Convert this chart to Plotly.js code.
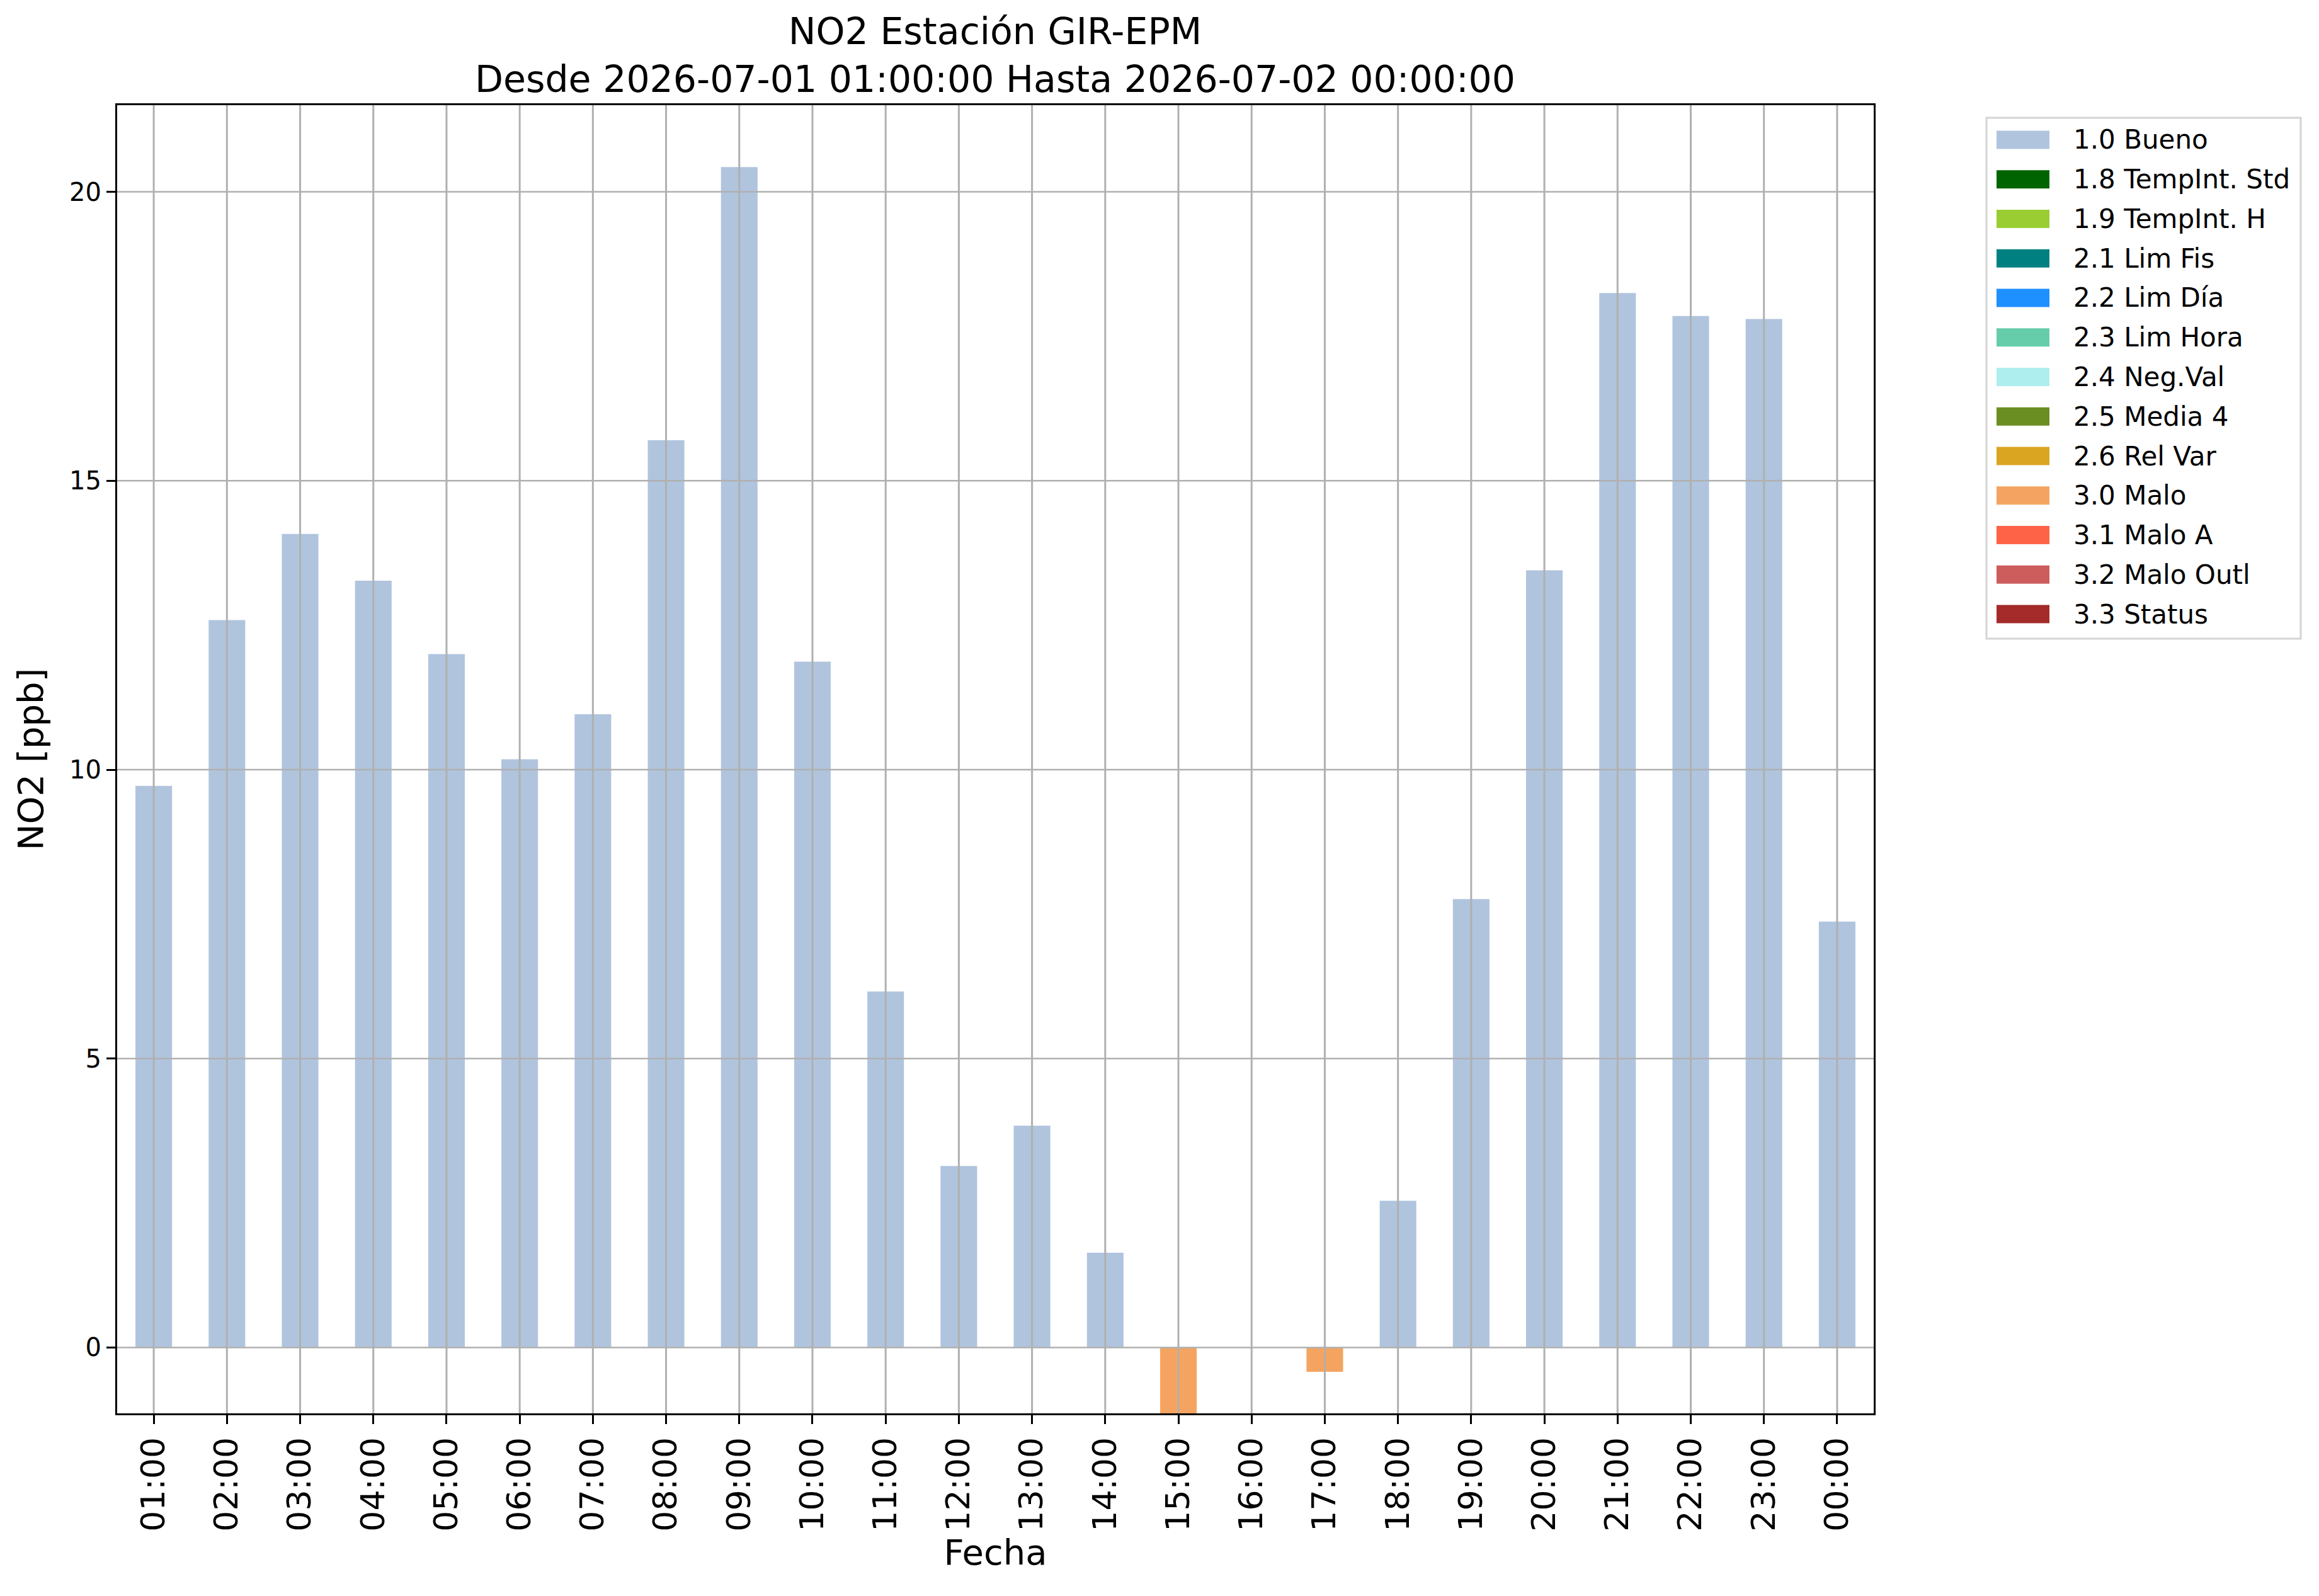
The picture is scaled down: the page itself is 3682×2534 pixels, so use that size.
<!DOCTYPE html>
<html>
<head>
<meta charset="utf-8">
<script src="https://cdn.plot.ly/plotly-3.0.1.min.js"></script>
<style>
  html, body { margin: 0; padding: 0; background: #fff; }
  #chart { width: 3682px; height: 2534px; }
</style>
</head>
<body>
<div id="chart"></div>
<script>
// Horas del día (eje X)
const hours = ['01:00', '02:00', '03:00', '04:00', '05:00', '06:00', '07:00', '08:00',
    '09:00', '10:00', '11:00', '12:00', '13:00', '14:00', '15:00', '16:00',
    '17:00', '18:00', '19:00', '20:00', '21:00', '22:00', '23:00', '00:00'];

// NO2 [ppb] con bandera 1.0 Bueno
const bueno = [9.72, 12.59, 14.08, 13.27, 12.00, 10.18, 10.96, 15.70,
    20.43, 11.87, 6.16, 3.14, 3.84, 1.64, null, null,
    null, 2.54, 7.76, 13.45, 18.25, 17.85, 17.80, 7.37];

// NO2 [ppb] con bandera 3.0 Malo
const malo = [null, null, null, null, null, null, null, null,
    null, null, null, null, null, null, -1.14, null,
    -0.42, null, null, null, null, null, null, null];

// Banderas de calidad (leyenda)
const flagLabels = ['1.0 Bueno', '1.8 TempInt. Std', '1.9 TempInt. H', '2.1 Lim Fis',
    '2.2 Lim Día', '2.3 Lim Hora', '2.4 Neg.Val', '2.5 Media 4', '2.6 Rel Var',
    '3.0 Malo', '3.1 Malo A', '3.2 Malo Outl', '3.3 Status'];
const flagColors = ['#B0C4DE', '#006400', '#9ACD32', '#008080', '#1E90FF', '#66CDAA',
    '#AFEEEE', '#6B8E23', '#DAA520', '#F4A460', '#FF6347', '#CD5C5C', '#A52A2A'];

const yTicks = [0, 5, 10, 15, 20];

// Geometría del área de trazado (px)
const W = 3682, H = 2534;
const M = { l: 186, r: 707, t: 167, b: 290 };
const plotW = W - M.l - M.r;
const plotH = H - M.t - M.b;
const px = p => (p - M.l) / plotW;
const py = p => (H - M.b - p) / plotH;

const GRID = '#b0b0b0';
const FONT = 'DejaVu Sans, Liberation Sans, sans-serif';

function barTrace(y, label) {
    const i = flagLabels.indexOf(label);
    return {
        type: 'bar',
        x: hours,
        y: y,
        name: label,
        marker: { color: flagColors[i], line: { width: 0 } },
        showlegend: false,
        hoverinfo: 'x+y+name'
    };
}

const traces = [barTrace(bueno, '1.0 Bueno'), barTrace(malo, '3.0 Malo')];

// Rejilla encima de las barras (como en matplotlib)
const shapes = [];
hours.forEach((h, i) => {
    shapes.push({
        type: 'line', layer: 'above', xref: 'x', yref: 'paper',
        x0: i, x1: i, y0: 0, y1: 1,
        line: { color: GRID, width: 3 }
    });
});
yTicks.forEach(v => {
    shapes.push({
        type: 'line', layer: 'above', xref: 'paper', yref: 'y',
        x0: 0, x1: 1, y0: v, y1: v,
        line: { color: GRID, width: 2.5 }
    });
});

// Leyenda dibujada a mano (parches rectangulares)
const legendBox = { x0: 3154, x1: 3653, y0: 187, y1: 1014 };
const rowStart = 222, rowStep = 62.75;
const annotations = [];
shapes.push({
    type: 'rect', layer: 'above', xref: 'paper', yref: 'paper',
    x0: px(legendBox.x0), x1: px(legendBox.x1),
    y0: py(legendBox.y1), y1: py(legendBox.y0),
    fillcolor: 'rgba(255,255,255,0.8)',
    line: { color: '#d4d4d4', width: 3 }
});
flagLabels.forEach((label, i) => {
    const cy = rowStart + i * rowStep;
    shapes.push({
        type: 'rect', layer: 'above', xref: 'paper', yref: 'paper',
        x0: px(3170), x1: px(3254), y0: py(cy + 14.5), y1: py(cy - 14.5),
        fillcolor: flagColors[i], line: { width: 0 }
    });
    annotations.push({
        xref: 'paper', yref: 'paper', x: px(3290), y: py(cy),
        xanchor: 'left', yanchor: 'middle', showarrow: false,
        text: label, font: { family: FONT, size: 42, color: '#000' }
    });
});

const layout = {
    width: W,
    height: H,
    autosize: false,
    margin: M,
    paper_bgcolor: '#fff',
    plot_bgcolor: '#fff',
    font: { family: FONT, color: '#000' },
    title: {
        text: 'NO2 Estación GIR-EPM<br>Desde 2026-07-01 01:00:00 Hasta 2026-07-02 00:00:00',
        font: { family: FONT, size: 58.5, color: '#000' },
        x: px(1580), xref: 'paper', xanchor: 'center',
        y: 1 - 70 / H, yref: 'container', yanchor: 'top'
    },
    barmode: 'relative',
    bargap: 0.5,
    showlegend: false,
    xaxis: {
        type: 'category',
        range: [-0.5, hours.length - 0.5],
        tickangle: -90,
        ticks: 'outside', ticklen: 14, tickwidth: 3, tickcolor: '#000',
        tickfont: { family: FONT, size: 52, color: '#000' },
        showgrid: false, zeroline: false,
        showline: true, mirror: true, linewidth: 3, linecolor: '#000',
        layer: 'above traces',
        title: { text: 'Fecha', font: { family: FONT, size: 56, color: '#000' }, standoff: 10 }
    },
    yaxis: {
        range: [-1.14, 21.5],
        tickvals: yTicks,
        ticks: 'outside', ticklen: 14, tickwidth: 3, tickcolor: '#000',
        tickfont: { family: FONT, size: 40, color: '#000' },
        showgrid: false, zeroline: false,
        showline: true, mirror: true, linewidth: 3, linecolor: '#000',
        layer: 'above traces',
        title: { text: 'NO2 [ppb]', font: { family: FONT, size: 56, color: '#000' }, standoff: 24 }
    },
    shapes: shapes,
    annotations: annotations
};

Plotly.newPlot('chart', traces, layout, { displayModeBar: false, responsive: false });
</script>
</body>
</html>
